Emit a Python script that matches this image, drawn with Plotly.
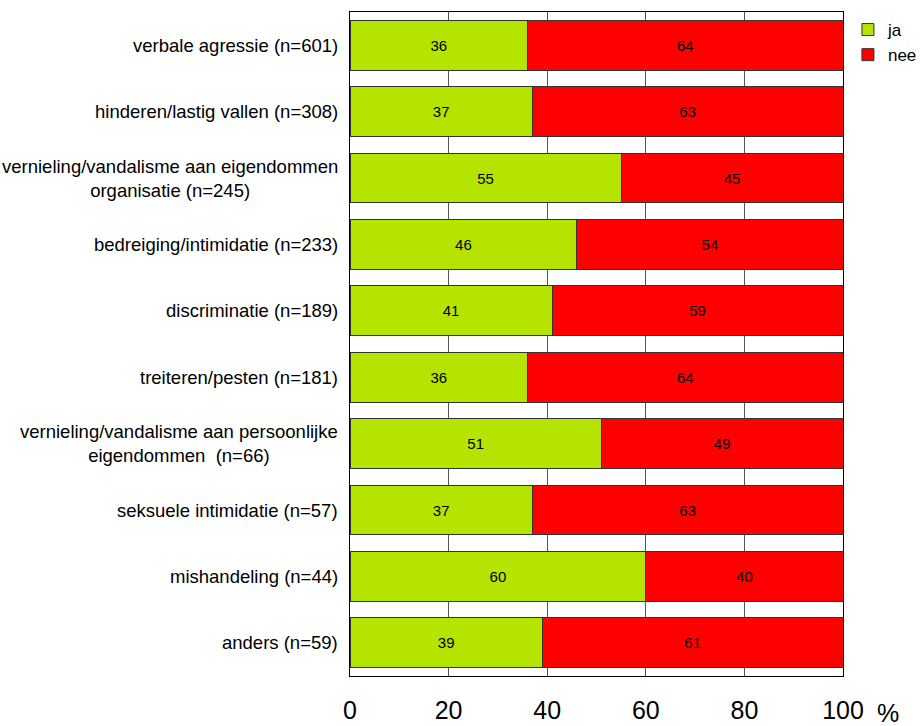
import plotly.graph_objects as go

categories = [
    "verbale agressie (n=601)",
    "hinderen/lastig vallen (n=308)",
    "vernieling/vandalisme aan eigendommen<br>organisatie (n=245)",
    "bedreiging/intimidatie (n=233)",
    "discriminatie (n=189)",
    "treiteren/pesten (n=181)",
    "vernieling/vandalisme aan persoonlijke<br>eigendommen  (n=66)",
    "seksuele intimidatie (n=57)",
    "mishandeling (n=44)",
    "anders (n=59)",
]
ja = [36, 37, 55, 46, 41, 36, 51, 37, 60, 39]
nee = [64, 63, 45, 54, 59, 64, 49, 63, 40, 61]
x_ticks = [0, 20, 40, 60, 80, 100]

FONT = "Liberation Sans, Arial, sans-serif"
idx = list(range(len(categories)))

fig = go.Figure()
fig.add_trace(go.Bar(
    y=idx, x=ja, orientation="h", name="ja",
    marker=dict(color="#b5e400", line=dict(color="#333333", width=1)),
    text=[str(v) for v in ja], textposition="inside", insidetextanchor="middle",
    textfont=dict(family=FONT, size=15, color="black"),
))
fig.add_trace(go.Bar(
    y=idx, x=nee, orientation="h", name="nee",
    marker=dict(color="#ff0000", line=dict(color="#333333", width=1)),
    text=[str(v) for v in nee], textposition="inside", insidetextanchor="middle",
    textfont=dict(family=FONT, size=15, color="black"),
))

# category labels, centred line by line
for i, c in enumerate(categories):
    fig.add_annotation(
        x=-0.02, xref="paper", y=i, yref="y", text=c, showarrow=False,
        xanchor="right", yanchor="middle", align="center",
        font=dict(family=FONT, size=18.5, color="black"),
    )

# unit label next to the last tick
fig.add_annotation(
    x=(888 - 350) / (843 - 350), xref="paper", y=-(713 - 676) / (676 - 12), yref="paper",
    text="%", showarrow=False, xanchor="center", yanchor="middle",
    font=dict(family=FONT, size=25, color="black"),
)

fig.update_layout(
    width=920, height=726,
    margin=dict(l=350, r=77, t=12, b=50, autoexpand=False),
    barmode="stack", bargap=0.25,
    plot_bgcolor="white", paper_bgcolor="white",
    uniformtext=dict(mode="show", minsize=15),
    showlegend=True,
    legend=dict(x=1.01, y=1.0, xanchor="left", yanchor="top",
                font=dict(family=FONT, size=17, color="black"),
                itemwidth=30, traceorder="normal", bgcolor="rgba(0,0,0,0)"),
    xaxis=dict(range=[0, 100], tickvals=x_ticks, ticktext=[str(t) for t in x_ticks],
               showgrid=True, gridcolor="#555555", gridwidth=1,
               showline=True, linecolor="black", linewidth=1, mirror=True,
               ticks="", ticklabelstandoff=12, automargin=False,
               tickfont=dict(family=FONT, size=25, color="black"), zeroline=False),
    yaxis=dict(range=[len(categories) - 0.5, -0.5], showticklabels=False,
               showgrid=False, showline=True, linecolor="black", linewidth=1,
               mirror=True, ticks="", zeroline=False, automargin=False),
)

fig.write_html("out.html")
